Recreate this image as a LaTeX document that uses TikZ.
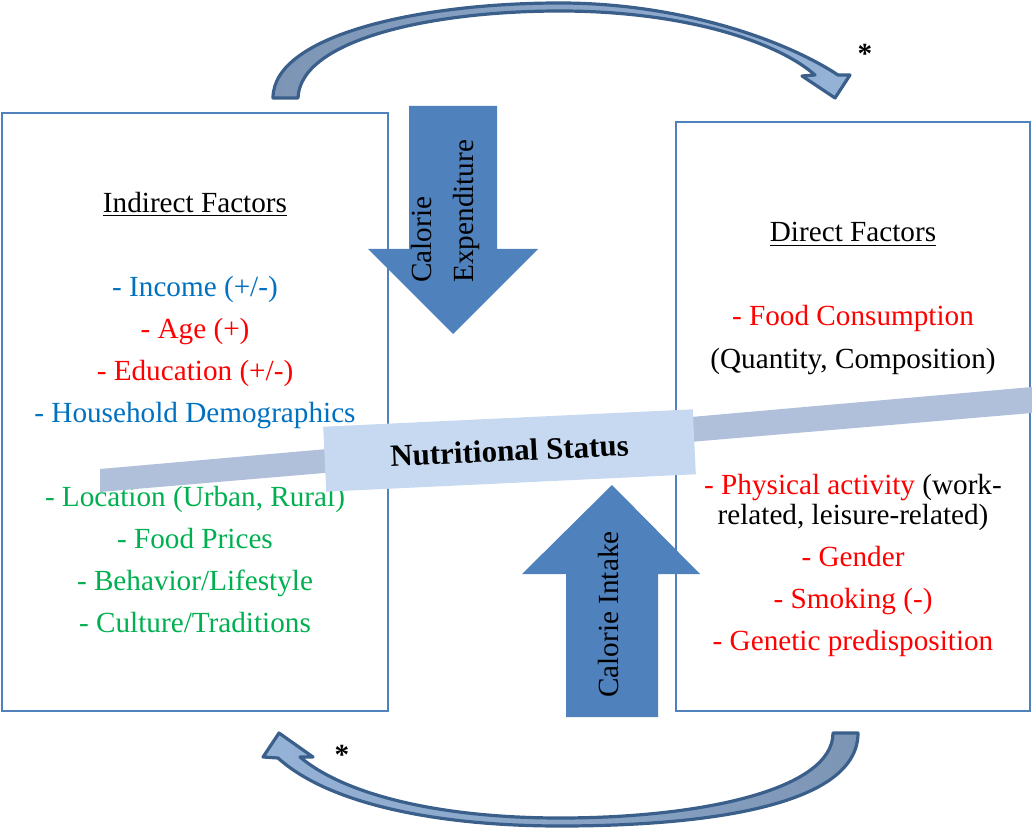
\documentclass[tikz,border=0pt]{standalone}
\usepackage{fontspec}
\setmainfont{Liberation Serif}
\definecolor{boxblue}{HTML}{4F81BD}
\definecolor{barblue}{HTML}{B0C0DB}
\definecolor{statusblue}{HTML}{C6D9F1}
\definecolor{curvedark}{HTML}{3A5F8B}
\definecolor{curvetail}{HTML}{7D95B5}
\definecolor{curvehead}{HTML}{95B3D7}
\definecolor{incblue}{HTML}{0070C0}
\definecolor{negred}{HTML}{FF0000}
\definecolor{envgreen}{HTML}{00B050}

\begin{document}
\begin{tikzpicture}[x=0.5pt,y=-0.5pt,
  factorbox/.style={draw=boxblue,line width=0.9pt,inner sep=0pt},
  factortext/.style={align=center,anchor=base,inner sep=0pt,font=\fontsize{14.6}{21}\selectfont},
  bigarrow/.style={fill=boxblue},
  arrowlabel/.style={rotate=90,align=left,anchor=base west,inner sep=0pt,font=\fontsize{14.6}{21}\selectfont},
  looparrow/.style={draw=curvedark,line width=1.6pt,line join=round}]
  \useasboundingbox (0,0) rectangle (1032,828);

  % the two factor boxes (text nodes sit on their last baseline)
  \node (indirect) [factorbox,minimum width=193pt,minimum height=299pt] at (195,412) {};
  \node (direct) [factorbox,minimum width=177pt,minimum height=294.5pt] at (853,416.5) {};

  \node (indirecttext) [factortext] at (195,632) {\underline{Indirect Factors}\\[21pt]
    \textcolor{incblue}{- Income (+/-)}\\
    \textcolor{negred}{- Age (+)}\\
    \textcolor{negred}{- Education (+/-)}\\
    \textcolor{incblue}{- Household Demographics}\\[21pt]
    \textcolor{envgreen}{- Location (Urban, Rural)}\\
    \textcolor{envgreen}{- Food Prices}\\
    \textcolor{envgreen}{- Behavior/Lifestyle}\\
    \textcolor{envgreen}{- Culture/Traditions}};
  \node (directtop) [factortext] at (853,368) {\underline{Direct Factors}\\[21pt]
    \textcolor{negred}{- Food Consumption}\\
    (Quantity, Composition)};
  \node (directbottom) [factortext] at (853,650) {\textcolor{negred}{- Physical activity} (work-\\[-6pt]
    related, leisure-related)\\
    \textcolor{negred}{- Gender}\\
    \textcolor{negred}{- Smoking (-)}\\
    \textcolor{negred}{- Genetic predisposition}};

  % status bar
  \fill[barblue] (100,469) -- (1032,387) -- (1032,413) -- (100,492) -- cycle;
  \node (status) [fill=statusblue,rotate=2.7,minimum width=185pt,minimum height=32.5pt,
    font=\fontsize{15.5}{18}\selectfont\bfseries] at (509.5,450.5) {Nutritional Status};

  % expenditure and intake
  \fill[bigarrow] (409,106) -- (497,106) -- (497,249) -- (538,249) -- (453,334)
    -- (368,249) -- (409,249) -- cycle;
  \fill[bigarrow] (566,717) -- (658,717) -- (658,574) -- (700,574) -- (612,485)
    -- (522,574) -- (566,574) -- cycle;
  \node (expenditure) [arrowlabel] at (473,283) {Calorie\\Expenditure};
  \node (intake) [arrowlabel] at (618,698) {Calorie Intake};

  % feedback loops
  \draw[looparrow,left color=curvetail,right color=curvehead]
    (273,98) .. controls (273,35) and (420,3) .. (560,3)
    .. controls (680,3) and (785,40) .. (838,75)
    -- (850,75) -- (835,98) -- (802,76) -- (815,75)
    .. controls (775,40) and (680,11) .. (560,11)
    .. controls (430,11) and (300,40) .. (298,98) -- cycle;
  \draw[looparrow,left color=curvehead,right color=curvetail]
    (858,733) .. controls (858,805) and (710,826) .. (560,826)
    .. controls (440,826) and (330,805) .. (278,758)
    -- (263,757) -- (279,733) -- (313,757) -- (300,757)
    .. controls (345,795) and (440,818) .. (560,818)
    .. controls (700,818) and (833,790) .. (833,733) -- cycle;
  \node (startop) [factortext,font=\fontsize{14.6}{21}\selectfont\bfseries] at (865,64) {*};
  \node (starbottom) [factortext,font=\fontsize{14.6}{21}\selectfont\bfseries] at (342,764) {*};
\end{tikzpicture}
\end{document}
